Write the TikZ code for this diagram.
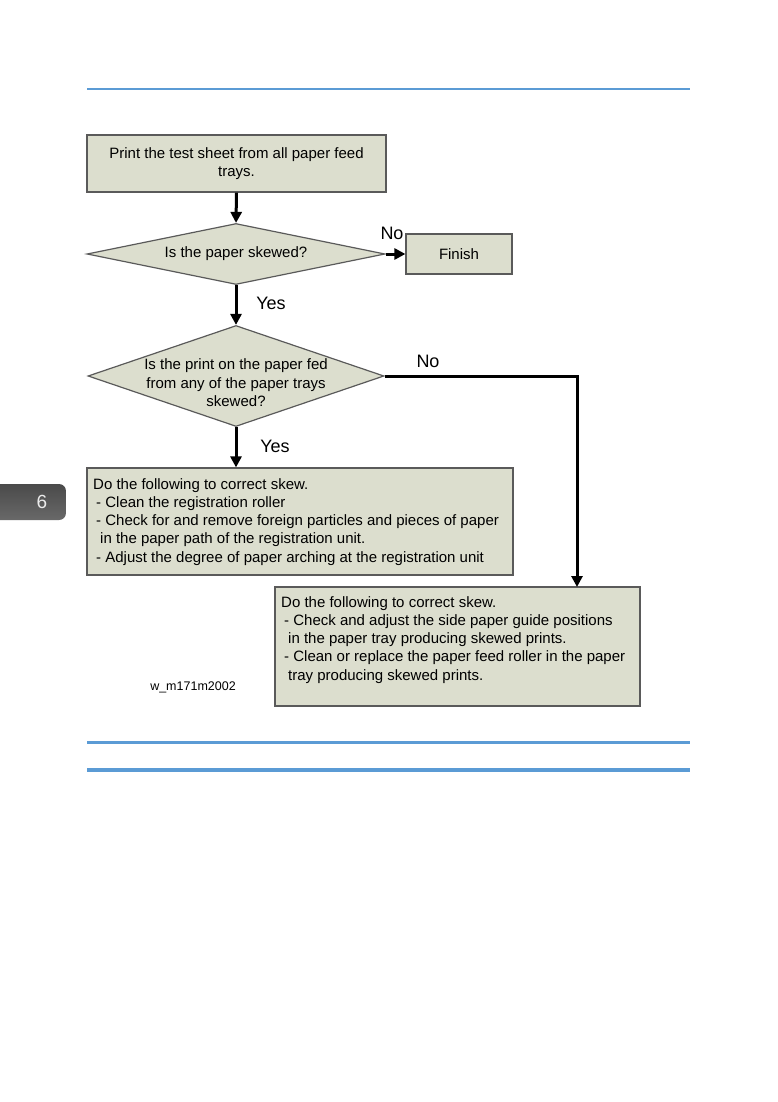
\documentclass[tikz,border=0pt]{standalone}
\usepackage{fontspec}
\setmainfont{Liberation Sans}
\usetikzlibrary{shapes.geometric,arrows.meta}
\definecolor{boxfill}{HTML}{DCDECE}
\definecolor{boxline}{HTML}{5A5A5A}
\definecolor{rulecol}{HTML}{5B9BD5}
\definecolor{tabcol}{HTML}{4E4E4E}
\begin{document}
\begin{tikzpicture}[x=1pt,y=-1pt,
  box/.style={draw=boxline,fill=boxfill,line width=1.2pt,inner sep=0pt},
  dia/.style={diamond,draw=boxline,fill=boxfill,line width=1.2pt,inner sep=0pt},
  txt/.style={font=\fontsize{15}{18.6}\selectfont,align=center,inner sep=0pt},
  ltxt/.style={font=\fontsize{15}{18.3}\selectfont,align=left,inner sep=0pt,anchor=north west},
  flow/.style={line width=3pt,-{Triangle[length=11pt,width=11pt]}},
  lbl/.style={font=\fontsize{18}{20}\selectfont,inner sep=0pt},
  hrule/.style={draw=rulecol}]
\useasboundingbox (0,0) rectangle (777,1102);
% page rules
\draw[hrule,line width=2pt] (87,89) -- (690,89);
\draw[hrule,line width=3pt] (87,742) -- (690,742);
\draw[hrule,line width=4.5pt] (87,770) -- (690,770);
% chapter tab
\shade[top color=tabcol!95!black,bottom color=tabcol!85!white,rounded corners=7pt] (-10,484) rectangle (66,520);
\node[font=\fontsize{19}{20}\selectfont,text=white!92!black,inner sep=0pt] (tab) at (42,502) {6};
% flowchart
\node[box,txt,minimum width=299pt,minimum height=57pt] (b1) at (236.5,163.5)
  {Print the test sheet from all paper feed\\trays.};
\node[dia,minimum width=298pt,minimum height=61pt] (d1) at (236,254) {};
\node[txt] (d1t) at (236,254) {Is the paper skewed?};
\node[box,txt,minimum width=106pt,minimum height=40pt] (fin) at (459,254) {Finish};
\node[dia,minimum width=296pt,minimum height=101pt] (d2) at (236,376) {};
\node[txt] (d2t) at (236,383) {Is the print on the paper fed\\from any of the paper trays\\skewed?};
\node[box,minimum width=426pt,minimum height=107pt] (b3) at (300,521.5) {};
\node[ltxt] (b3t) at (93,478) {Do the following to correct skew.\\
\hspace*{3pt}- Clean the registration roller\\
\hspace*{3pt}- Check for and remove foreign particles and pieces of paper\\
\hspace*{7pt}in the paper path of the registration unit.\\
\hspace*{3pt}- Adjust the degree of paper arching at the registration unit};
\node[box,minimum width=365pt,minimum height=119pt] (b4) at (457.5,646.5) {};
\node[ltxt] (b4t) at (281,596) {Do the following to correct skew.\\
\hspace*{3pt}- Check and adjust the side paper guide positions\\
\hspace*{7pt}in the paper tray producing skewed prints.\\
\hspace*{3pt}- Clean or replace the paper feed roller in the paper\\
\hspace*{7pt}tray producing skewed prints.};
\node[font=\fontsize{12.5}{14}\selectfont,inner sep=0pt] (fig) at (193,687) {w\_m171m2002};
\coordinate (b4in) at (577,587);
% connectors
\draw[flow] (b1.south) -- (d1.north);
\draw[flow] (d1.east) -- (fin.west);
\draw[flow] (d1.south) -- (d2.north);
\draw[flow] (d2.south) -- (d2.south |- b3.north);
\draw[flow] (d2.east) -| (b4in);
% labels
\node[lbl] (no1) at (392,233) {No};
\node[lbl] (yes1) at (271,303) {Yes};
\node[lbl] (no2) at (428,361) {No};
\node[lbl] (yes2) at (275,446) {Yes};
\end{tikzpicture}
\end{document}
